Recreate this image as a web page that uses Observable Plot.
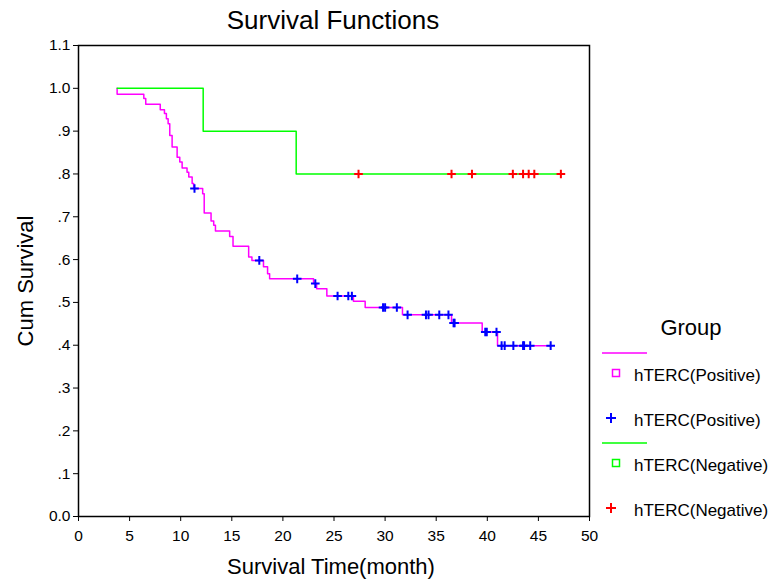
<!DOCTYPE html>
<html>
<head>
<meta charset="utf-8">
<script src="https://cdn.jsdelivr.net/npm/d3@7"></script>
<script src="https://cdn.jsdelivr.net/npm/@observablehq/plot@0.6"></script>
<style>
  html, body { margin: 0; padding: 0; background: white; }
  #wrap { position: relative; width: 771px; height: 579px; }
  #wrap > svg { position: absolute; left: 0; top: 0; }
  #overlay { pointer-events: none; font-family: "Liberation Sans", Arial, sans-serif; }
</style>
</head>
<body>
<div id="wrap"></div>
<script>
// ---- Data ----
const titleText = "Survival Functions";
const xLabel = "Survival Time(month)";
const yLabel = "Cum Survival";
const legendTitle = "Group";
const groupNames = ["hTERC(Positive)", "hTERC(Negative)"];

const xTicks = [0, 5, 10, 15, 20, 25, 30, 35, 40, 45, 50];
const yTicks = [0, 0.1, 0.2, 0.3, 0.4, 0.5, 0.6, 0.7, 0.8, 0.9, 1.0, 1.1];

// hTERC(Positive): step times and cumulative survival
const posTimes = [3.78, 3.78, 6.39, 6.58, 8.0, 8.41, 8.60, 8.77, 8.93, 9.16, 9.65, 9.91, 10.14, 10.62, 10.79, 11.12, 11.27,
  12.15, 12.3, 12.97, 13.23, 13.4, 14.79, 15.12, 16.65, 16.97, 18.1, 18.5, 18.7, 23.0, 23.3, 24.3, 26.9, 28.05, 31.7,
  36.5, 39.5, 41.0, 46.2];
const posSurv = [1.0, 0.986, 0.976, 0.963, 0.950, 0.941, 0.929, 0.917, 0.890, 0.863, 0.839, 0.828, 0.814, 0.804, 0.793, 0.778, 0.766,
  0.754, 0.709, 0.690, 0.680, 0.667, 0.654, 0.631, 0.606, 0.598, 0.583, 0.567, 0.555, 0.544, 0.532, 0.515, 0.503, 0.488, 0.471,
  0.452, 0.431, 0.399, 0.399];
// censored times (Positive)
const posCensored = [11.35, 17.69, 21.4, 23.17, 25.35, 26.4, 26.75, 29.8, 30.0, 31.15, 32.2, 34.0, 34.25, 35.3, 36.2,
  36.7, 36.8, 39.8, 39.95, 40.9, 41.4, 41.7, 42.55, 43.5, 43.6, 44.2, 46.2];

// hTERC(Negative)
const negTimes = [3.78, 12.2, 21.3, 47.3];
const negSurv = [1.0, 0.9, 0.8, 0.8];
const negCensored = [27.4, 36.5, 38.5, 42.5, 43.5, 44.05, 44.6, 47.2];

// ---- Build tables ----
const posSteps = posTimes.map((t, i) => ({t, s: posSurv[i]}));
const negSteps = negTimes.map((t, i) => ({t, s: negSurv[i]}));
function survAt(steps, t) {
  let s = steps[0].s;
  for (const d of steps) if (d.t <= t) s = d.s;
  return s;
}
const posCens = posCensored.map(t => ({t, s: survAt(posSteps, t)}));
const negCens = negCensored.map(t => ({t, s: survAt(negSteps, t)}));

const fmtY = d => d === 0 ? "0.0" : (d >= 1 ? d.toFixed(1) : d.toFixed(1).replace(/^0/, ""));

const colPos = "#ff00ff", colPosC = "#0000ff", colNeg = "#00ff00", colNegC = "#ff0000";

const chart = Plot.plot({
  width: 771,
  height: 579,
  marginLeft: 78,
  marginRight: 182,
  marginTop: 45,
  marginBottom: 63,
  style: {fontFamily: "Liberation Sans, Arial, sans-serif", fontSize: "15.5px", background: "white", color: "black", overflow: "visible"},
  x: {domain: [0, 50], ticks: xTicks, tickFormat: d => String(d), tickSize: 5, tickPadding: 8, label: null},
  y: {domain: [0, 1.1], ticks: yTicks, tickFormat: fmtY, tickSize: 5, tickPadding: 3, label: null},
  marks: [
    Plot.line(posSteps, {x: "t", y: "s", curve: "step-after", stroke: colPos, strokeWidth: 1.5}),
    Plot.line(negSteps, {x: "t", y: "s", curve: "step-after", stroke: colNeg, strokeWidth: 1.5}),
    Plot.dot(posCens, {x: "t", y: "s", symbol: "plus", r: 2.9, stroke: colPosC, strokeWidth: 2}),
    Plot.dot(negCens, {x: "t", y: "s", symbol: "plus", r: 2.9, stroke: colNegC, strokeWidth: 2}),
    Plot.frame({stroke: "black", strokeWidth: 1.5})
  ]
});

const wrap = document.getElementById("wrap");
wrap.appendChild(chart);

// ---- Overlay: title, axis labels and legend ----
const ns = "http://www.w3.org/2000/svg";
const ov = document.createElementNS(ns, "svg");
ov.setAttribute("id", "overlay");
ov.setAttribute("width", 771);
ov.setAttribute("height", 579);
wrap.appendChild(ov);
function el(tag, attrs, text) {
  const e = document.createElementNS(ns, tag);
  for (const k in attrs) e.setAttribute(k, attrs[k]);
  if (text != null) e.textContent = text;
  ov.appendChild(e);
  return e;
}
el("text", {x: 333, y: 20, "text-anchor": "middle", "dominant-baseline": "central", "font-size": 26}, titleText);
el("text", {x: 331, y: 566, "text-anchor": "middle", "dominant-baseline": "central", "font-size": 22}, xLabel);
el("text", {x: 0, y: 0, transform: "translate(25,281) rotate(-90)", "text-anchor": "middle", "dominant-baseline": "central", "font-size": 22}, yLabel);

const L = {x: 595, y: 310};
el("text", {x: L.x + 96, y: L.y + 17, "text-anchor": "middle", "dominant-baseline": "central", "font-size": 22}, legendTitle);
const items = [
  {kind: "line", color: colPos, y: 43},
  {kind: "square", color: colPos, y: 63, label: groupNames[0]},
  {kind: "plus", color: colPosC, y: 108, label: groupNames[0]},
  {kind: "line", color: colNeg, y: 133},
  {kind: "square", color: colNeg, y: 153, label: groupNames[1]},
  {kind: "plus", color: colNegC, y: 198, label: groupNames[1]}
];
for (const it of items) {
  const cy = L.y + it.y;
  if (it.kind === "line") {
    el("line", {x1: L.x + 7, x2: L.x + 52, y1: cy, y2: cy, stroke: it.color, "stroke-width": 1.5});
  } else if (it.kind === "square") {
    el("rect", {x: L.x + 17.5, y: cy - 3.5, width: 7, height: 7, fill: "none", stroke: it.color, "stroke-width": 1.5});
  } else {
    el("path", {d: `M${L.x + 16},${cy - 5}v10M${L.x + 11},${cy}h10`, stroke: it.color, "stroke-width": 2, fill: "none"});
  }
  if (it.label) {
    el("text", {x: L.x + 39, y: cy + 2, "dominant-baseline": "central", "font-size": 17}, it.label);
  }
}
</script>
</body>
</html>
